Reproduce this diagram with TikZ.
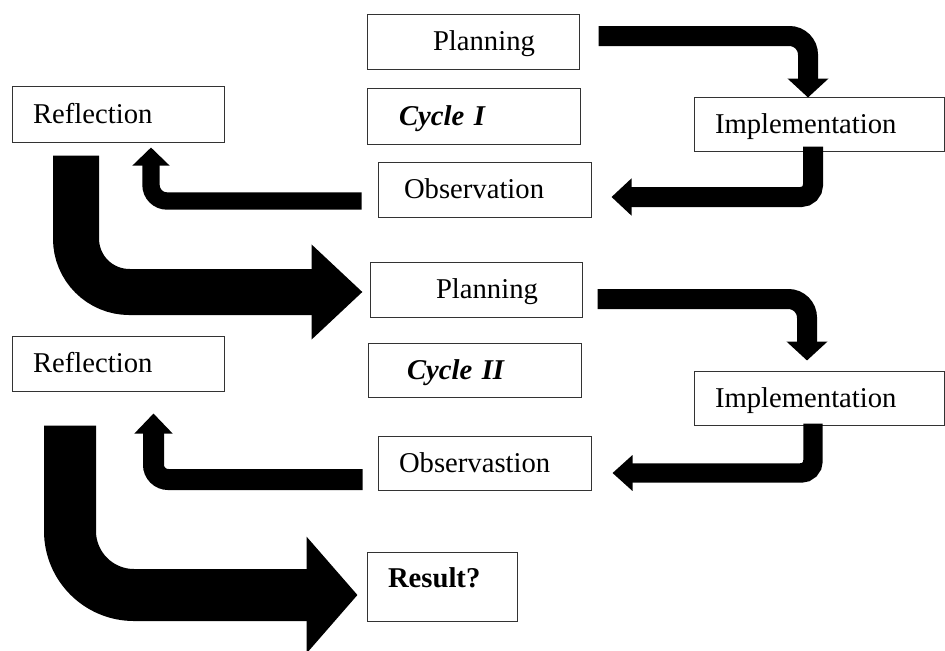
\documentclass[tikz,border=0pt]{standalone}
\usepackage{fontspec}
\setmainfont{Liberation Serif}
\usetikzlibrary{arrows.meta}

\tikzset{
  stage/.style={draw=black!80, line width=0.75pt, rectangle, align=left,
    inner xsep=15.75pt, inner ysep=0pt, text height=14.2pt, text depth=0pt,
    font=\fontsize{21.5}{25}\selectfont},
  flow/.style={draw=black, line join=miter}
}

\begin{document}
\begin{tikzpicture}[x=0.75pt, y=-0.75pt]
\useasboundingbox (0,0) rectangle (945,650);
% cycle I
\draw (473,41.5) node[stage, text width=127.5pt, minimum height=41.25pt] (plan1) {\hspace*{33.75pt}Planning};
\draw (473.5,116) node[stage, text width=128.25pt, minimum height=42pt] (cyc1) {\hspace*{8.25pt}\textbf{\textit{Cycle I}}};
\draw (819,124) node[stage, text width=156pt, minimum height=40.5pt] (impl1) {Implementation};
\draw (484.5,189.5) node[stage, text width=128.25pt, minimum height=41.25pt] (obs1) {\hspace*{3.75pt}Observation};
\draw (118,114) node[stage, text width=127.5pt, minimum height=42pt] (refl1) {Reflection};
% cycle II
\draw (476,289.5) node[stage, text width=127.5pt, minimum height=41.25pt] (plan2) {\hspace*{33.75pt}Planning};
\draw (474.5,370) node[stage, text width=128.25pt, minimum height=40.5pt] (cyc2) {\hspace*{13.5pt}\textbf{\textit{Cycle II}}};
\draw (819,398) node[stage, text width=156pt, minimum height=40.5pt] (impl2) {Implementation};
\draw (484.5,463) node[stage, text width=128.25pt, minimum height=40.5pt] (obs2) {Observastion};
\draw (118,363.5) node[stage, text width=127.5pt, minimum height=41.25pt] (refl2) {Reflection};
\draw (442,586.5) node[stage, text width=81pt, minimum height=51.75pt, text depth=12pt] (result) {\textbf{Result?}};

\draw[flow, line width=15pt, rounded corners=14pt, -{Triangle[width=30pt,length=14.25pt]}]
  ([shift={(19,-5.5)}]plan1.east) -| ([shift={(-11,1)}]impl1.north);
\draw[flow, line width=15pt, rounded corners=9pt, -{Triangle[width=27pt,length=15pt]}]
  ([shift={(-6,-5)}]impl1.south) |- ([shift={(20,7.5)}]obs1.east);
\draw[flow, line width=13pt, rounded corners=12pt, -{Triangle[width=27pt,length=13.5pt]}]
  ([shift={(-16,11.5)}]obs1.west) -| ([shift={(33,5)}]refl1.south);
\draw[flow, line width=34.5pt, rounded corners=40pt, -{Triangle[width=69pt,length=38.25pt]}]
  ([shift={(-42,13)}]refl1.south) |- ([shift={(-7,2.5)}]plan2.west);
\draw[flow, line width=15pt, rounded corners=14pt, -{Triangle[width=30pt,length=14.25pt]}]
  ([shift={(15,9.5)}]plan2.east) -| ([shift={(-12,-10)}]impl2.north);
\draw[flow, line width=14.6pt, rounded corners=9pt, -{Triangle[width=26pt,length=15pt]}]
  ([shift={(-6,-2)}]impl2.south) |- ([shift={(21,10)}]obs2.east);
\draw[flow, line width=15.75pt, rounded corners=11pt, -{Triangle[width=27.75pt,length=15pt]}]
  ([shift={(-15,16.5)}]obs2.west) -| ([shift={(35.5,22)}]refl2.south);
\draw[flow, line width=39pt, rounded corners=48pt, -{Triangle[width=85.5pt,length=38.25pt]}]
  ([shift={(-48,34)}]refl2.south) |- ([shift={(-9,8.5)}]result.west);
\end{tikzpicture}
\end{document}
